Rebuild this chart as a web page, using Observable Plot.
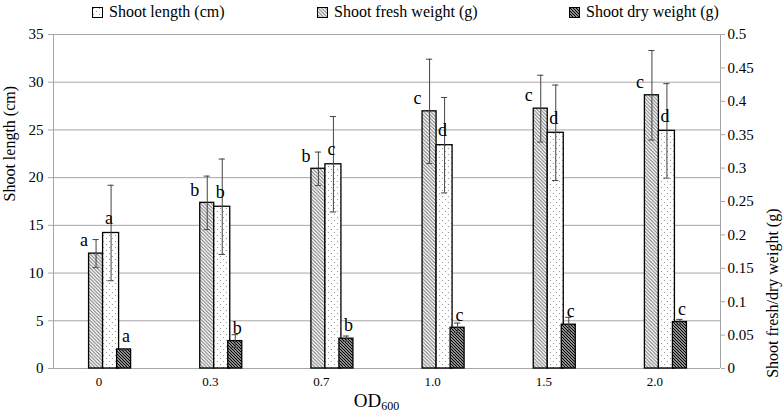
<!DOCTYPE html>
<html><head><meta charset="utf-8">
<script src="https://cdn.jsdelivr.net/npm/d3@7"></script>
<script src="https://cdn.jsdelivr.net/npm/@observablehq/plot@0.6"></script>
<style>
body{margin:0;background:#fff;font-family:"Liberation Serif","Times New Roman",Tinos,"DejaVu Serif",serif;color:#000;}
#legend{position:relative;height:24px;width:784px;font-size:16px;}
.item{position:absolute;top:3px;height:18px;line-height:18px;display:flex;align-items:center;white-space:nowrap;}
.item svg{margin-right:6px;}
#chart svg{display:block;}
</style></head><body>
<svg width="0" height="0" style="position:absolute">
  <defs>
    <pattern id="pFresh" patternUnits="userSpaceOnUse" width="3.5" height="3.5">
      <rect width="3.5" height="3.5" fill="#fff"/>
      <path d="M-1,-1 L4.5,4.5 M-1,2.5 L1,4.5 M2.5,-1 L4.5,1" stroke="#6e6e6e" stroke-width="1"/>
    </pattern>
    <pattern id="pDry" patternUnits="userSpaceOnUse" width="3" height="3">
      <rect width="3" height="3" fill="#fff"/>
      <path d="M-1,-1 L4,4 M-1,2 L1,4 M2,-1 L4,1" stroke="#000" stroke-width="1.3"/>
    </pattern>
    <pattern id="pLength" patternUnits="userSpaceOnUse" width="6" height="6">
      <rect width="6" height="6" fill="#fff"/>
      <circle cx="1.5" cy="1.5" r="0.6" fill="#8a8a8a"/>
      <circle cx="4.5" cy="4.5" r="0.6" fill="#8a8a8a"/>
    </pattern>
  </defs>
</svg>
<div id="legend"></div>
<div id="chart"></div>
<script>
// ---------- data ----------
const categories = ["0", "0.3", "0.7", "1.0", "1.5", "2.0"];
const lengthMean = [14.2, 16.95, 21.4, 23.4, 24.7, 24.9];      // cm
const lengthErr  = [5.0, 5.0, 5.0, 5.0, 5.0, 4.95];
const freshMean  = [0.172, 0.248, 0.299, 0.385, 0.389, 0.409]; // g
const freshErr   = [0.021, 0.040, 0.025, 0.078, 0.050, 0.067];
const dryMean    = [0.0285, 0.041, 0.0446, 0.061, 0.0656, 0.0695]; // g
const dryErr     = [0.001, 0.0096, 0.004, 0.007, 0.011, 0.004];
const lengthLetters = ["a", "b", "c", "d", "d", "d"];
const freshLetters  = ["a", "b", "b", "c", "c", "c"];
const dryLetters    = ["a", "b", "b", "c", "c", "c"];
const leftTicks  = [0, 5, 10, 15, 20, 25, 30, 35];
const rightTicks = [0, 0.05, 0.1, 0.15, 0.2, 0.25, 0.3, 0.35, 0.4, 0.45, 0.5];
const seriesNames = ["Shoot length (cm)", "Shoot fresh weight (g)", "Shoot dry weight (g)"];

// ---------- layout ----------
const FONT = '"Liberation Serif", "Times New Roman", Tinos, "DejaVu Serif", serif';
const K = 35 / 0.5; // grams -> left axis units (secondary axis)
const slot = {fresh: [0.32, 0.446], length: [0.446, 0.59], dry: [0.572, 0.698]};
const fills = {fresh: "url(#pFresh)", length: "url(#pLength)", dry: "url(#pDry)"};
const cap = 0.028;

const rows = [];
categories.forEach((c, i) => {
  rows.push({series: "fresh", i, v: freshMean[i] * K, e: freshErr[i] * K, letter: freshLetters[i]});
  rows.push({series: "length", i, v: lengthMean[i], e: lengthErr[i], letter: lengthLetters[i]});
  rows.push({series: "dry", i, v: dryMean[i] * K, e: dryErr[i] * K, letter: dryLetters[i]});
});
const x1 = d => d.i + slot[d.series][0];
const x2 = d => d.i + slot[d.series][1];
const xc = d => (x1(d) + x2(d)) / 2;
const only = s => rows.filter(d => d.series === s);

// ---------- legend ----------
const legend = d3.select("#legend");
const legendItems = [
  {name: seriesNames[0], fill: fills.length, left: 92},
  {name: seriesNames[1], fill: fills.fresh, left: 317},
  {name: seriesNames[2], fill: fills.dry, left: 569}
];
legendItems.forEach(it => {
  const item = legend.append("div").attr("class", "item").style("left", it.left + "px");
  const sw = item.append("svg").attr("width", 11).attr("height", 11);
  sw.append("rect").attr("x", 0.5).attr("y", 0.5).attr("width", 10).attr("height", 10)
    .attr("fill", it.fill).attr("stroke", "#000").attr("stroke-width", 1);
  item.append("span").text(it.name);
});

// ---------- chart ----------
const grid = "#a6a6a6";
const chart = Plot.plot({
  width: 784, height: 391,
  marginLeft: 53, marginRight: 64, marginTop: 10, marginBottom: 47,
  x: {domain: [0, 6], axis: null},
  y: {domain: [0, 35], axis: null},
  style: {fontFamily: FONT, fontSize: "15px", color: "#000", background: "#fff", overflow: "visible"},
  marks: [
    Plot.ruleY(leftTicks, {stroke: grid, strokeWidth: 1}),
    Plot.ruleX([0, 6], {y1: 0, y2: 35, stroke: grid, strokeWidth: 1}),
    Plot.axisY(leftTicks, {anchor: "left", tickSize: 5, tickPadding: 5, stroke: grid, fill: "#000", label: null, fontSize: 15}),
    Plot.axisY(rightTicks.map(v => v * K), {anchor: "right", tickSize: 4, tickPadding: 3, stroke: grid, fill: "#000",
      tickFormat: d => String(+(d / K).toFixed(2)), label: null, fontSize: 15}),
    Plot.axisX(categories.map((c, i) => i + 0.5), {anchor: "bottom", tickSize: 0, tickPadding: 8, dx: -10,
      tickFormat: d => categories[Math.floor(d)], label: null, fontSize: 13}),
    // bars
    ...["fresh", "length", "dry"].map(s =>
      Plot.rect(only(s), {x1, x2, y1: 0, y2: "v", fill: fills[s], stroke: "#000", strokeWidth: 1.3})),
    // error bars
    Plot.ruleX(rows, {x: xc, y1: d => d.v - d.e, y2: d => d.v + d.e, stroke: "#444", strokeWidth: 1}),
    Plot.ruleY(rows, {y: d => d.v + d.e, x1: d => xc(d) - cap, x2: d => xc(d) + cap, stroke: "#444", strokeWidth: 1}),
    Plot.ruleY(rows, {y: d => d.v - d.e, x1: d => xc(d) - cap, x2: d => xc(d) + cap, stroke: "#444", strokeWidth: 1}),
    // significance letters
    Plot.text(only("fresh"), {x: x1, y: "v", text: "letter", textAnchor: "end", dx: -1, dy: -13, fontSize: 18}),
    Plot.text(only("length"), {x: xc, y: "v", text: "letter", dx: -2, dy: -15, fontSize: 18}),
    Plot.text(only("dry"), {x: xc, y: "v", text: "letter", dx: 2, dy: -13, fontSize: 18}),
    // axis titles
    Plot.text(["Shoot length (cm)"], {frameAnchor: "left", rotate: -90, dx: -44, fontSize: 16}),
    Plot.text(["Shoot fresh/dry weight (g)"], {frameAnchor: "right", rotate: -90, dx: 52, dy: 7, fontSize: 16})
  ]
});
document.getElementById("chart").appendChild(chart);

// x-axis title with subscript
const xs = chart.scale("x");
const title = d3.select(chart).append("text")
  .attr("x", xs.apply(3) - 10).attr("y", 383)
  .attr("text-anchor", "middle")
  .attr("font-family", FONT)
  .attr("font-size", 19).attr("fill", "#000");
title.append("tspan").text("OD");
title.append("tspan").attr("font-size", 12).attr("dy", 3).text("600");
</script>
</body></html>
